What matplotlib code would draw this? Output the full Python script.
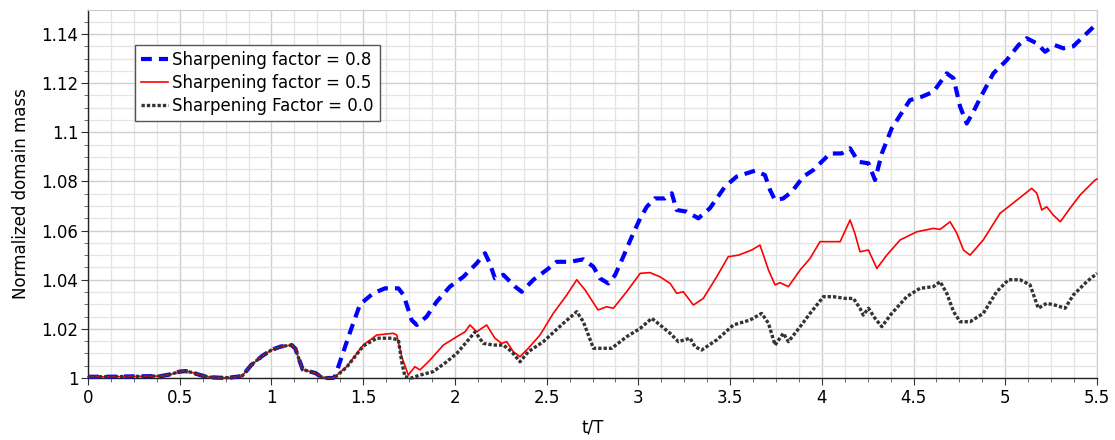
import matplotlib
matplotlib.use("Agg")
import matplotlib.pyplot as plt
from matplotlib.ticker import MultipleLocator, FormatStrFormatter, FuncFormatter
import numpy as np

# ---- data ----
t_common = [0, 0.1, 0.2, 0.3, 0.4, 0.45, 0.5, 0.53, 0.57, 0.62, 0.67, 0.72, 0.78,
            0.84, 0.89, 0.95, 1.0, 1.05, 1.11, 1.13, 1.145, 1.17, 1.2, 1.24, 1.27, 1.30, 1.335]
m_common = [1.0005, 1.0005, 1.0006, 1.0007, 1.0008, 1.0015, 1.0026, 1.0028, 1.0022, 1.001,
            1.0003, 1.0001, 1.0002, 1.0008, 1.0053, 1.009, 1.0114, 1.0128, 1.0134, 1.012,
            1.0087, 1.0035, 1.0028, 1.002, 1.0005, 1.0, 1.0]

t_08 = [1.346, 1.383, 1.43, 1.483, 1.555, 1.619, 1.692, 1.72, 1.764, 1.792, 1.846, 1.90,
        1.973, 2.046, 2.119, 2.164, 2.19, 2.218, 2.264, 2.328, 2.364, 2.428, 2.50, 2.555,
        2.627, 2.70, 2.755, 2.79, 2.836, 2.873, 2.918, 2.964, 3.01, 3.046, 3.09, 3.145,
        3.182, 3.209, 3.264, 3.327, 3.39, 3.472, 3.536, 3.59, 3.636, 3.69, 3.718, 3.745,
        3.79, 3.836, 3.90, 3.954, 4.045, 4.108, 4.154, 4.20, 4.254, 4.29, 4.327, 4.381,
        4.48, 4.545, 4.608, 4.681, 4.718, 4.754, 4.79, 4.826, 4.872, 4.935, 5.008, 5.072,
        5.117, 5.172, 5.217, 5.27, 5.317, 5.37, 5.426, 5.50]
m_08 = [1.0005, 1.0087, 1.019, 1.030, 1.0345, 1.0365, 1.0365, 1.0338, 1.0236, 1.0216,
        1.025, 1.031, 1.0372, 1.0412, 1.0467, 1.0508, 1.0467, 1.0406, 1.042, 1.0372,
        1.0351, 1.04, 1.044, 1.0473, 1.0473, 1.0483, 1.0453, 1.0406, 1.0385, 1.0419,
        1.0494, 1.0575, 1.065, 1.0697, 1.0731, 1.0731, 1.0752, 1.0684, 1.0677, 1.065,
        1.0691, 1.0779, 1.082, 1.0833, 1.0844, 1.0826, 1.0765, 1.0724, 1.0731, 1.0758,
        1.082, 1.0847, 1.0914, 1.0914, 1.0935, 1.088, 1.0874, 1.0806, 1.0914, 1.1016,
        1.1131, 1.1145, 1.1165, 1.124, 1.122, 1.1104, 1.1036, 1.1084, 1.1152, 1.124,
        1.1294, 1.1355, 1.1383, 1.1362, 1.1328, 1.1355, 1.1342, 1.135, 1.139, 1.1443]

t_05 = [1.346, 1.41, 1.50, 1.574, 1.664, 1.683, 1.71, 1.746, 1.782, 1.81, 1.864, 1.937,
        2.01, 2.055, 2.082, 2.119, 2.173, 2.218, 2.255, 2.282, 2.318, 2.355, 2.40, 2.464,
        2.536, 2.61, 2.664, 2.71, 2.78, 2.827, 2.864, 2.936, 3.01, 3.063, 3.118, 3.173,
        3.209, 3.245, 3.30, 3.354, 3.427, 3.49, 3.545, 3.618, 3.663, 3.709, 3.745, 3.772,
        3.818, 3.882, 3.936, 3.99, 4.10, 4.154, 4.18, 4.208, 4.254, 4.30, 4.354, 4.427,
        4.517, 4.608, 4.645, 4.699, 4.736, 4.772, 4.808, 4.88, 4.971, 5.063, 5.144, 5.172,
        5.199, 5.226, 5.262, 5.30, 5.353, 5.408, 5.49, 5.50]
m_05 = [1.0005, 1.0046, 1.0134, 1.0175, 1.0182, 1.0175, 1.0087, 1.0012, 1.0046, 1.0033,
        1.0073, 1.0134, 1.0168, 1.0188, 1.0216, 1.0188, 1.0216, 1.0162, 1.0141, 1.0148,
        1.0107, 1.0087, 1.0121, 1.0175, 1.0263, 1.0338, 1.04, 1.0358, 1.0277, 1.029,
        1.0284, 1.0351, 1.0426, 1.0429, 1.0412, 1.0385, 1.0345, 1.0351, 1.0297, 1.0324,
        1.0412, 1.0494, 1.05, 1.0521, 1.0541, 1.044, 1.0379, 1.0388, 1.0372, 1.044,
        1.0487, 1.0555, 1.0555, 1.0643, 1.0589, 1.0514, 1.0521, 1.0446, 1.05, 1.0562,
        1.0595, 1.0609, 1.0605, 1.0636, 1.0589, 1.0521, 1.05, 1.0562, 1.067, 1.0724,
        1.0772, 1.0752, 1.0684, 1.0697, 1.0663, 1.0636, 1.0691, 1.0745, 1.0806, 1.081]

t_00 = [1.346, 1.41, 1.50, 1.574, 1.655, 1.692, 1.71, 1.728, 1.764, 1.81, 1.882, 1.955,
        2.01, 2.073, 2.11, 2.155, 2.21, 2.264, 2.31, 2.355, 2.40, 2.482, 2.59, 2.664,
        2.70, 2.755, 2.81, 2.855, 2.936, 3.01, 3.073, 3.118, 3.173, 3.218, 3.282, 3.309,
        3.345, 3.427, 3.518, 3.609, 3.672, 3.709, 3.745, 3.79, 3.818, 3.882, 3.936, 4.009,
        4.063, 4.127, 4.172, 4.208, 4.226, 4.254, 4.29, 4.327, 4.381, 4.463, 4.535, 4.608,
        4.645, 4.681, 4.718, 4.754, 4.808, 4.88, 4.953, 5.017, 5.08, 5.135, 5.18, 5.226,
        5.27, 5.326, 5.371, 5.444, 5.50]
m_00 = [1.0003, 1.0044, 1.013, 1.0162, 1.0162, 1.0155, 1.0066, 1.0005, 1.0, 1.0012,
        1.0026, 1.0066, 1.01, 1.0155, 1.0188, 1.0141, 1.0134, 1.0134, 1.0107, 1.0066,
        1.0107, 1.0148, 1.0222, 1.027, 1.0229, 1.0121, 1.0121, 1.0121, 1.0168, 1.0202,
        1.0243, 1.0216, 1.0182, 1.0148, 1.0162, 1.0127, 1.0114, 1.0155, 1.0216, 1.0236,
        1.0263, 1.0223, 1.0134, 1.0182, 1.0148, 1.0209, 1.0263, 1.0331, 1.0331, 1.0324,
        1.0324, 1.0284, 1.0256, 1.0284, 1.0243, 1.0209, 1.0263, 1.0331, 1.0365, 1.0372,
        1.0392, 1.0345, 1.027, 1.0229, 1.0229, 1.0263, 1.0351, 1.04, 1.04, 1.0379,
        1.0284, 1.0304, 1.0297, 1.0284, 1.0338, 1.0392, 1.0426]

labels = ["Sharpening factor = 0.8", "Sharpening factor = 0.5", "Sharpening Factor = 0.0"]
x_label = "t/T"
y_label = "Normalized domain mass"

# ---- figure ----
plt.rcParams['font.family'] = ['DejaVu Sans']
fig = plt.figure(figsize=(11.15, 4.4), dpi=100)
ax = fig.add_axes([88/1115, 1 - 378/440, (1097-88)/1115, (378-10)/440])

ax.plot(t_common + t_08, m_common + m_08, color='#0000ff', lw=3.0,
        dashes=(2.6, 1.7), label=labels[0], clip_on=False, zorder=3)
ax.plot(t_common + t_05, m_common + m_05, color='#ff0000', lw=1.2,
        label=labels[1], clip_on=False, zorder=4)
ax.plot(t_common + t_00, m_common + m_00, color='#333333', lw=2.4,
        dashes=(1.0, 0.6), label=labels[2], clip_on=False, zorder=5)

ax.set_xlim(0, 5.5)
ax.set_ylim(1.0, 1.1498)
ax.xaxis.set_major_locator(MultipleLocator(0.5))
ax.xaxis.set_minor_locator(MultipleLocator(0.125))
ax.yaxis.set_major_locator(MultipleLocator(0.02))
ax.yaxis.set_minor_locator(MultipleLocator(0.005))
fmt = FuncFormatter(lambda v, p: ('%.2f' % v).rstrip('0').rstrip('.'))
ax.xaxis.set_major_formatter(fmt)
ax.yaxis.set_major_formatter(fmt)

ax.grid(True, which='major', color='#cfcfcf', lw=1.0, zorder=0)
ax.grid(True, which='minor', color='#e4e4e4', lw=0.9, zorder=0)
ax.set_axisbelow(True)

for s in ['top', 'right']:
    ax.spines[s].set_color('#cccccc')
for s in ['left', 'bottom']:
    ax.spines[s].set_color('#222222')
    ax.spines[s].set_linewidth(1.0)

ax.tick_params(axis='both', which='major', labelsize=12, length=5, color='#333333')
ax.tick_params(axis='both', which='minor', length=3, color='#555555')
ax.tick_params(axis='x', which='both', direction='out', pad=3)
ax.tick_params(axis='y', which='both', direction='out', pad=2)

ax.set_xlabel(x_label, fontsize=12, labelpad=8)
ax.set_ylabel(y_label, fontsize=12, labelpad=8)

leg = ax.legend(loc='upper left', bbox_to_anchor=((135-88)/1009, (378-45)/368),
                borderaxespad=0, fontsize=12, frameon=True, fancybox=False,
                handlelength=1.6, handletextpad=0.3, borderpad=0.35,
                labelspacing=0.3, framealpha=1)
leg.get_frame().set_edgecolor('#555555')
leg.get_frame().set_linewidth(1.0)

fig.savefig("out.png", dpi=100)
